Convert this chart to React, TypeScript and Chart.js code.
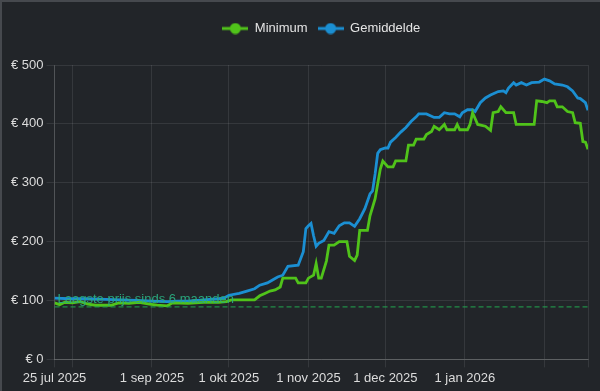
import React, { useEffect, useRef } from 'react';
import { Chart, registerables } from 'chart.js';

Chart.register(...registerables);

// x axis: days since 25 jul 2025
const tickDays = [0, 7, 38, 68, 99, 129, 160, 191, 208];
const tickLabels = ['25 jul 2025', '', '1 sep 2025', '1 okt 2025', '1 nov 2025', '1 dec 2025', '1 jan 2026', '', ''];

const yTickValues = [0, 100, 200, 300, 400, 500];

const seriesNames = ['Minimum', 'Gemiddelde'];

const minDays = [
  0, 2, 4, 7, 10, 13, 16, 22, 25, 29, 33, 37, 40, 44, 46, 52, 58, 64, 67, 69, 78, 80, 82, 84, 86, 88, 89, 94, 95, 98,
  99, 101, 102, 103, 104, 106, 107, 109, 111, 114, 115, 117, 118, 119, 122, 123, 125, 127, 128, 130, 132, 133, 137, 138,
  140, 141, 144, 145, 147, 148, 150, 152, 153, 156, 157, 158, 161, 162, 163, 165, 168, 170, 171, 173, 174, 176, 179, 180,
  187, 188, 190, 192, 193, 195, 196, 198, 200, 202, 203, 205, 206, 207, 208,
];
const minValues = [
  96, 93, 97, 96, 98, 94, 92, 92, 96, 95, 97, 94, 92, 91, 96, 95, 97, 97, 98, 101, 101, 108, 112, 116, 118, 123, 138, 138, 130, 130,
  138, 143, 163, 138, 138, 167, 194, 194, 200, 200, 175, 168, 177, 219, 219, 244, 273, 323, 337, 327, 327, 337, 337, 364,
  364, 374, 374, 382, 387, 396, 390, 399, 390, 390, 399, 390, 390, 399, 419, 399, 396, 389, 419, 421, 429, 419, 419, 399,
  399, 439, 438, 436, 439, 439, 429, 429, 421, 419, 402, 401, 370, 369, 357,
];

const avgDays = [
  0, 6, 12, 20, 26, 32, 38, 44, 48, 52, 58, 64, 66, 68, 72, 75, 78, 80, 83, 85, 87, 89, 91, 95, 97, 98, 99, 100, 101, 102,
  103, 105, 107, 109, 111, 113, 115, 117, 119, 121, 123, 124, 125, 126, 127, 129, 130, 131, 133, 135, 137, 139, 141, 142,
  145, 148, 150, 152, 154, 156, 158, 159, 161, 163, 164, 166, 168, 170, 173, 175, 176, 177, 179, 180, 182, 184, 186, 189,
  191, 193, 195, 198, 200, 202, 204, 205, 207, 208,
];
const avgValues = [
  104, 103, 103, 102, 101, 100, 99, 98, 99, 99, 101, 103, 104, 109, 112, 116, 120, 126, 130, 135, 140, 143, 158, 160, 183, 222, 227, 231, 210, 192,
  197, 202, 217, 214, 227, 232, 232, 226, 239, 256, 281, 286, 315, 350, 356, 359, 359, 369, 377, 386, 394, 404, 412, 417,
  417, 411, 411, 419, 417, 417, 412, 419, 424, 424, 421, 436, 444, 449, 455, 456, 453, 461, 470, 466, 470, 466, 470, 471,
  476, 473, 468, 466, 463, 456, 444, 443, 436, 423,
];

const lowestPrice = 90;
const lowestLabel = 'Laagste prijs sinds 6 maanden';

const GREEN = '#50c31a';
const BLUE = '#1b8fd2';
const BG = '#222529';
const FONT = "'Liberation Sans', Arial, Helvetica, sans-serif";

function legendIcon(color: string) {
  const c = document.createElement('canvas');
  c.width = 26;
  c.height = 12;
  const ctx = c.getContext('2d')!;
  ctx.strokeStyle = color;
  ctx.lineWidth = 3;
  ctx.beginPath();
  ctx.moveTo(0, 6);
  ctx.lineTo(26, 6);
  ctx.stroke();
  ctx.fillStyle = color;
  ctx.beginPath();
  ctx.arc(13, 6, 5.5, 0, Math.PI * 2);
  ctx.fill();
  return c;
}

const lowestPlugin = {
  id: 'lowestLine',
  afterDatasetsDraw(chart: any) {
    const { ctx, chartArea, scales } = chart;
    const py = scales.y.getPixelForValue(lowestPrice);
    ctx.save();
    ctx.strokeStyle = '#22a850';
    ctx.lineWidth = 1;
    ctx.setLineDash([5, 3]);
    ctx.beginPath();
    ctx.moveTo(chartArea.left, py + 0.5);
    ctx.lineTo(chartArea.right, py + 0.5);
    ctx.stroke();
    ctx.setLineDash([]);
    ctx.fillStyle = 'rgba(42,172,128,0.95)';
    ctx.font = `13px ${FONT}`;
    ctx.textBaseline = 'middle';
    ctx.textAlign = 'left';
    ctx.fillText(lowestLabel, chartArea.left + 3, py - 6.5);
    ctx.restore();
  },
};

const legendSpacer = {
  id: 'legendSpacer',
  beforeInit(chart: any) {
    const legend = chart.legend;
    if (!legend) return;
    const fit = legend.fit;
    legend.fit = function () {
      fit.call(this);
      this.height += 20;
    };
  },
};

export default function App() {
  const ref = useRef<HTMLCanvasElement | null>(null);

  useEffect(() => {
    document.body.style.margin = '0';
    document.body.style.background = BG;
    const canvas = ref.current;
    if (!canvas) return;
    const icons = [legendIcon(GREEN), legendIcon(BLUE)];
    const chart = new Chart(canvas, {
      type: 'line',
      data: {
        datasets: [
          {
            label: seriesNames[0],
            data: minDays.map((d, i) => ({ x: d, y: minValues[i] })),
            borderColor: GREEN,
            backgroundColor: GREEN,
            borderWidth: 2.8,
            pointRadius: 0,
            tension: 0,
          },
          {
            label: seriesNames[1],
            data: avgDays.map((d, i) => ({ x: d, y: avgValues[i] })),
            borderColor: BLUE,
            backgroundColor: BLUE,
            borderWidth: 2.8,
            pointRadius: 0,
            tension: 0,
          },
        ],
      },
      options: {
        animation: false,
        responsive: true,
        maintainAspectRatio: false,
        layout: { padding: { top: 10, left: 6, right: 12, bottom: 2 } },
        font: { family: FONT },
        plugins: {
          legend: {
            position: 'top',
            fullSize: false,
            labels: {
              color: '#e4e4e4',
              font: { family: FONT, size: 13 },
              usePointStyle: true,
              pointStyleWidth: 26,
              padding: 10,
              generateLabels: (ch: any) =>
                ch.data.datasets.map((ds: any, i: number) => ({
                  text: ds.label,
                  fillStyle: ds.borderColor,
                  strokeStyle: ds.borderColor,
                  fontColor: '#e4e4e4',
                  lineWidth: 0,
                  hidden: !ch.isDatasetVisible(i),
                  datasetIndex: i,
                  pointStyle: icons[i],
                })),
            },
          },
          tooltip: { enabled: false },
        },
        scales: {
          x: {
            type: 'linear',
            min: tickDays[0],
            max: tickDays[tickDays.length - 1],
            afterBuildTicks: (scale: any) => {
              scale.ticks = tickDays.map((v) => ({ value: v }));
            },
            ticks: {
              autoSkip: false,
              maxRotation: 0,
              color: '#dcdcdc',
              font: { family: FONT, size: 13 },
              callback: (v: any) => {
                const i = tickDays.indexOf(Number(v));
                return i >= 0 ? tickLabels[i] : '';
              },
            },
            grid: { color: 'rgba(255,255,255,0.09)', tickColor: 'rgba(255,255,255,0.09)' },
            border: { color: 'rgba(255,255,255,0.2)' },
          },
          y: {
            min: 0,
            max: 500,
            afterBuildTicks: (scale: any) => {
              scale.ticks = yTickValues.map((v) => ({ value: v }));
            },
            ticks: {
              color: '#dcdcdc',
              font: { family: FONT, size: 13 },
              callback: (v: any) => `€ ${v}`,
            },
            grid: { color: 'rgba(255,255,255,0.09)', tickColor: 'rgba(255,255,255,0.09)' },
            border: { color: 'rgba(255,255,255,0.14)' },
          },
        },
      },
      plugins: [legendSpacer, lowestPlugin],
    });
    return () => chart.destroy();
  }, []);

  return (
    <div
      style={{
        width: 600,
        height: 391,
        background: BG,
        borderTop: '2px solid #46494e',
        borderLeft: '2px solid #46494e',
        boxSizing: 'border-box',
        position: 'relative',
      }}
    >
      <div style={{ position: 'relative', width: 598, height: 389 }}>
        <canvas ref={ref} />
      </div>
    </div>
  );
}
